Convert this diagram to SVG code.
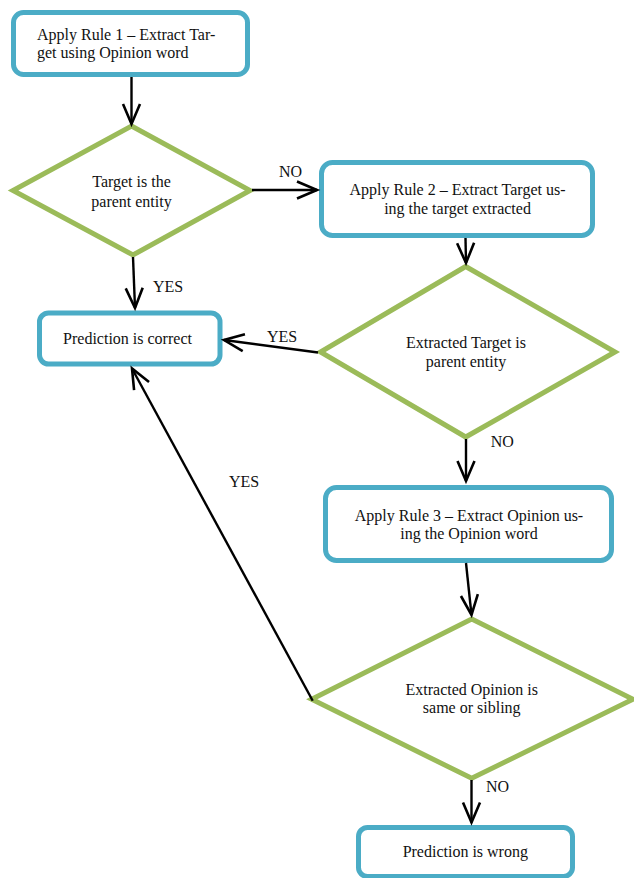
<svg xmlns="http://www.w3.org/2000/svg" width="634" height="878" viewBox="0 0 634 878">
<style>
.box{fill:#fff;stroke:#4BACC6;stroke-width:5}
.dia{fill:#fff;stroke:#9BBB59;stroke-width:5;stroke-linejoin:miter}
.t{font-family:"Liberation Serif","Times New Roman",serif;font-size:16px;fill:#111}
.c{text-anchor:middle}
.conn line{stroke:#000;stroke-width:2.4;marker-end:url(#arr)}
</style>
<defs>
<marker id="arr" markerUnits="userSpaceOnUse" viewBox="-24 -12 28 24" refX="0" refY="0" markerWidth="28" markerHeight="24" orient="auto" overflow="visible">
<path d="M-20,-8.5 L0,0 L-20,8.5" fill="none" stroke="#000" stroke-width="2.6"/>
</marker>
</defs>
<rect width="634" height="878" fill="#fff"/>
<g id="n1"><rect class="box" x="13.5" y="12.5" width="234" height="62" rx="10"/>
<text class="t" x="37" y="39.5">Apply Rule 1 – Extract Tar-</text>
<text class="t" x="37" y="58">get using Opinion word</text></g>
<g id="d1"><polygon class="dia" points="131.5,126 250,190.5 133,255 13,190.5"/>
<text class="t c" x="131.5" y="186.7">Target is the</text>
<text class="t c" x="131.5" y="207.3">parent entity</text></g>
<g id="n2"><rect class="box" x="321.5" y="162.5" width="271" height="73" rx="11"/>
<text class="t c" x="457.5" y="195">Apply Rule 2 – Extract Target us-</text>
<text class="t c" x="457.5" y="213.5">ing the target extracted</text></g>
<g id="d2"><polygon class="dia" points="465.7,266.5 615,352 465.7,437 320.5,352"/>
<text class="t c" x="466" y="348">Extracted Target is</text>
<text class="t c" x="466" y="367.3">parent entity</text></g>
<g id="n3"><rect class="box" x="39.5" y="313" width="180.5" height="51" rx="9"/>
<text class="t c" x="127.5" y="344.3">Prediction is correct</text></g>
<g id="n4"><rect class="box" x="325.5" y="487.5" width="286" height="73" rx="11"/>
<text class="t c" x="469" y="520.7">Apply Rule 3 – Extract Opinion us-</text>
<text class="t c" x="469" y="539.3">ing the Opinion word</text></g>
<g id="d3"><polygon class="dia" points="471.7,619 633,699.3 471.7,778.3 311.7,699.3"/>
<text class="t c" x="471.7" y="695">Extracted Opinion is</text>
<text class="t c" x="471.7" y="713.3">same or sibling</text></g>
<g id="n5"><rect class="box" x="358.5" y="827.5" width="214" height="49" rx="9"/>
<text class="t c" x="465.3" y="857">Prediction is wrong</text></g>
<g id="connectors" class="conn">
<line x1="131.5" y1="77" x2="131.5" y2="124"/>
<line x1="252" y1="190" x2="317" y2="190"/>
<line x1="133" y1="257" x2="135" y2="308"/>
<line x1="465.5" y1="238" x2="466" y2="263"/>
<line x1="318" y1="352.5" x2="224" y2="340"/>
<line x1="466" y1="439" x2="466" y2="481"/>
<line x1="466" y1="563" x2="471.5" y2="615"/>
<line x1="312.7" y1="700.7" x2="132" y2="368.5"/>
<line x1="471.5" y1="780" x2="471.5" y2="822.5"/>
</g>
<g id="labels">
<text class="t" x="279" y="177">NO</text>
<text class="t" x="153" y="291.7">YES</text>
<text class="t" x="267" y="341.7">YES</text>
<text class="t" x="229" y="487">YES</text>
<text class="t" x="490.7" y="446.7">NO</text>
<text class="t" x="486" y="791.7">NO</text>
</g>
</svg>
